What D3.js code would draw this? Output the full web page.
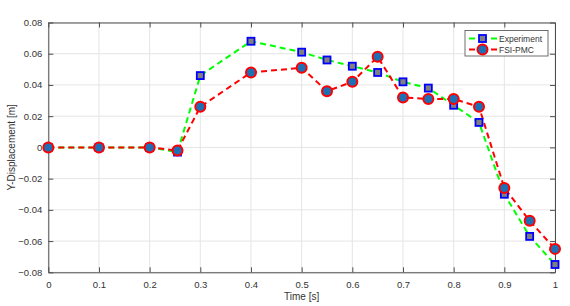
<!DOCTYPE html>
<html>
<head>
<meta charset="utf-8">
<script src="https://cdn.jsdelivr.net/npm/d3@7"></script>
<style>
  body { margin: 0; background: #fff; }
  svg { display: block; font-family: "Liberation Sans", Arial, sans-serif; }
</style>
</head>
<body>
<div id="chart"></div>
<script>
// Time points (s)
const time = [0, 0.1, 0.2, 0.255, 0.3, 0.4, 0.5, 0.55, 0.6, 0.65, 0.7, 0.75, 0.8, 0.85, 0.9, 0.95, 1.0];
// Y displacement (m)
const experiment = [0, 0, 0, -0.003, 0.046, 0.068, 0.061, 0.056, 0.052, 0.048, 0.042, 0.038, 0.027, 0.016, -0.030, -0.057, -0.075];
const fsiPmc = [0, 0, 0, -0.002, 0.026, 0.048, 0.051, 0.036, 0.042, 0.058, 0.032, 0.031, 0.031, 0.026, -0.026, -0.047, -0.065];
const xTicks = [0, 0.1, 0.2, 0.3, 0.4, 0.5, 0.6, 0.7, 0.8, 0.9, 1];
const yTicks = [-0.08, -0.06, -0.04, -0.02, 0, 0.02, 0.04, 0.06, 0.08];
const seriesNames = ['Experiment', 'FSI-PMC'];

const W = 570, H = 306;
const margin = { top: 22.5, right: 15, bottom: 33.7, left: 48.3 };
const width = W - margin.left - margin.right;
const height = H - margin.top - margin.bottom;

const svg = d3.select('#chart').append('svg')
    .attr('width', W)
    .attr('height', H);

const g = svg.append('g')
    .attr('transform', `translate(${margin.left},${margin.top})`);

const x = d3.scaleLinear().domain([0, 1]).range([0, width]);
const y = d3.scaleLinear().domain([-0.08, 0.08]).range([height, 0]);

const axisColor = '#4d4d4d';

// Grid
g.append('g').selectAll('line').data(xTicks).enter().append('line')
    .attr('x1', d => x(d)).attr('x2', d => x(d))
    .attr('y1', 0).attr('y2', height)
    .attr('stroke', '#e5e5e5').attr('stroke-width', 1);
g.append('g').selectAll('line').data(yTicks).enter().append('line')
    .attr('y1', d => y(d)).attr('y2', d => y(d))
    .attr('x1', 0).attr('x2', width)
    .attr('stroke', '#e5e5e5').attr('stroke-width', 1);

// Axes (ticks inward, mirrored on top/right)
const fmt = d => d === 0 ? '0' : d3.format('')(+d.toFixed(2));
const xAxis = g.append('g')
    .attr('transform', `translate(0,${height})`)
    .call(d3.axisBottom(x).tickValues(xTicks).tickSizeInner(-5).tickSizeOuter(0).tickPadding(9).tickFormat(fmt));
const yAxis = g.append('g')
    .call(d3.axisLeft(y).tickValues(yTicks).tickSizeInner(-5).tickSizeOuter(0).tickPadding(6).tickFormat(fmt));
const xTop = g.append('g')
    .call(d3.axisTop(x).tickValues(xTicks).tickSizeInner(-5).tickSizeOuter(0).tickFormat(''));
const yRight = g.append('g')
    .attr('transform', `translate(${width},0)`)
    .call(d3.axisRight(y).tickValues(yTicks).tickSizeInner(-5).tickSizeOuter(0).tickFormat(''));

[xAxis, yAxis, xTop, yRight].forEach(a => {
    a.select('.domain').attr('stroke', axisColor).attr('stroke-width', 1);
    a.selectAll('.tick line').attr('stroke', axisColor);
    a.selectAll('.tick text').attr('fill', '#333').style('font-size', '9.5px');
});

// Axis labels
svg.append('text')
    .attr('x', margin.left + width / 2)
    .attr('y', 300)
    .attr('text-anchor', 'middle')
    .attr('fill', '#333')
    .style('font-size', '10px')
    .text('Time [s]');
svg.append('text')
    .attr('transform', `translate(15,${margin.top + height / 2}) rotate(-90)`)
    .attr('text-anchor', 'middle')
    .attr('fill', '#333')
    .style('font-size', '10px')
    .text('Y-Displacement [m]');

const line = d3.line()
    .x(d => x(d[0]))
    .y(d => y(d[1]));

const expData = time.map((t, i) => [t, experiment[i]]);
const fsiData = time.map((t, i) => [t, fsiPmc[i]]);

// Lines
g.append('path').datum(expData)
    .attr('d', line)
    .attr('fill', 'none')
    .attr('stroke', '#00ff00')
    .attr('stroke-width', 2)
    .attr('stroke-dasharray', '6,4');
g.append('path').datum(fsiData)
    .attr('d', line)
    .attr('fill', 'none')
    .attr('stroke', '#ff0000')
    .attr('stroke-width', 2)
    .attr('stroke-dasharray', '6,4');

// Markers
g.append('g').selectAll('rect').data(expData).enter().append('rect')
    .attr('x', d => x(d[0]) - 3.5)
    .attr('y', d => y(d[1]) - 3.5)
    .attr('width', 7).attr('height', 7)
    .attr('fill', '#808080')
    .attr('stroke', '#0000ff')
    .attr('stroke-width', 1.8);
g.append('g').selectAll('circle').data(fsiData).enter().append('circle')
    .attr('cx', d => x(d[0]))
    .attr('cy', d => y(d[1]))
    .attr('r', 5)
    .attr('fill', '#1f6fb4')
    .attr('stroke', '#ff0000')
    .attr('stroke-width', 2);

// Legend
const legend = svg.append('g').attr('transform', 'translate(465,30.5)');
legend.append('rect')
    .attr('width', 83).attr('height', 25.5)
    .attr('fill', '#fff')
    .attr('stroke', '#4d4d4d')
    .attr('stroke-width', 0.8);
seriesNames.forEach((name, i) => {
    const ly = 8 + i * 11;
    const col = i === 0 ? '#00ff00' : '#ff0000';
    legend.append('line')
        .attr('x1', 4).attr('x2', 33)
        .attr('y1', ly).attr('y2', ly)
        .attr('stroke', col).attr('stroke-width', 2)
        .attr('stroke-dasharray', '6,5');
    if (i === 0) {
        legend.append('rect')
            .attr('x', 14).attr('y', ly - 3.5)
            .attr('width', 7).attr('height', 7)
            .attr('fill', '#808080').attr('stroke', '#0000ff').attr('stroke-width', 1.8);
    } else {
        legend.append('circle')
            .attr('cx', 17.5).attr('cy', ly).attr('r', 5)
            .attr('fill', '#1f6fb4').attr('stroke', '#ff0000').attr('stroke-width', 2);
    }
    legend.append('text')
        .attr('x', 34).attr('y', ly + 3)
        .attr('fill', '#333')
        .style('font-size', '8.5px')
        .text(name);
});
</script>
</body>
</html>
